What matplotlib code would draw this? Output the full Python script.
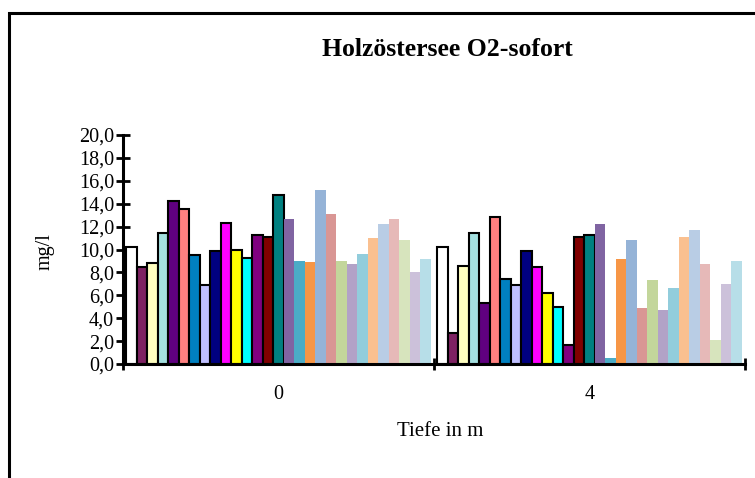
import matplotlib
matplotlib.use("Agg")
import matplotlib.pyplot as plt
from matplotlib.patches import Rectangle
from matplotlib.ticker import FuncFormatter, FixedLocator

plt.rcParams['font.family'] = ['Liberation Serif', 'DejaVu Serif']

# Data
depths = ["0", "4"]
vals_0m = [10.2, 8.5, 8.8, 11.4, 14.2, 13.5, 9.5, 6.9, 9.9, 12.3, 10.0, 9.3, 11.3, 11.1, 14.8,
           12.7, 9.0, 8.9, 15.2, 13.1, 9.0, 8.7, 9.6, 11.0, 12.2, 12.7, 10.8, 8.0, 9.2]
vals_4m = [10.2, 2.7, 8.6, 11.4, 5.3, 12.8, 7.4, 6.9, 9.9, 8.5, 6.2, 5.0, 1.7, 11.1, 11.3,
           12.2, 0.5, 9.2, 10.8, 4.9, 7.3, 4.7, 6.6, 11.1, 11.7, 8.7, 2.1, 7.0, 9.0]
colors = ["#FFFFFF", "#7E2262", "#FFFFC0", "#A4E0E0", "#600080", "#FF8080", "#0080C0", "#C0C0FF",
          "#000080", "#FF00FF", "#FFFF00", "#00FFFF", "#800080", "#800000", "#008080",
          "#8064A2", "#4BACC6", "#F79646", "#95B3D7", "#D99694", "#C3D69B", "#B2A2C7",
          "#92CDDC", "#FAC090", "#B9CDE5", "#E6B9B8", "#D7E4BD", "#CCC1DA", "#B7DEE8"]
n_edged = 15
yticks = [0, 2, 4, 6, 8, 10, 12, 14, 16, 18, 20]

W, H = 755, 478
fig = plt.figure(figsize=(W / 100, H / 100), dpi=100)
fig.patches.append(Rectangle((9 / W, -0.1), 1.2, (H - 13) / H + 0.1, transform=fig.transFigure,
                             fill=False, edgecolor='black', linewidth=2.2, zorder=0))

ax = fig.add_axes([123 / W, (H - 364) / H, (745 - 123) / W, (364 - 135) / H])
n = len(colors)
group_w = 0.98
bw = group_w / n
for i in range(n):
    xs = [j - group_w / 2 + bw * (i + 0.5) for j in range(len(depths))]
    vals = [vals_0m[i], vals_4m[i]]
    if i < n_edged:
        ax.bar(xs, vals, width=bw, color=colors[i], edgecolor='black', linewidth=1.5, zorder=2)
    else:
        ax.bar(xs, vals, width=bw, color=colors[i], linewidth=0, zorder=2)

ax.set_xlim(-0.5, 1.5)
ax.set_ylim(0, 20)
ax.set_yticks(yticks)
ax.yaxis.set_major_formatter(FuncFormatter(lambda v, p: f"{v:.1f}".replace('.', ',')))
ax.set_xticks(range(len(depths)))
ax.set_xticklabels(depths)
ax.xaxis.set_minor_locator(FixedLocator([-0.5, 0.5, 1.5]))
ax.tick_params(axis='x', which='major', length=0, pad=15, labelsize=14.5)
ax.tick_params(axis='x', which='minor', length=8, width=2, direction='inout')
ax.tick_params(axis='y', which='major', length=10, width=2, direction='inout', pad=1.5, labelsize=14.5)
for s in ['top', 'right']:
    ax.spines[s].set_visible(False)
for s in ['left', 'bottom']:
    ax.spines[s].set_linewidth(2.2)

fig.text(447 / W, 1 - 50 / H, "Holzöstersee O2-sofort", ha='center', va='center',
         fontsize=18.5, fontweight='bold')
fig.text(440 / W, 1 - 432 / H, "Tiefe in m", ha='center', va='center', fontsize=15)
fig.text(45 / W, 1 - 252 / H, "mg/l", ha='center', va='center', rotation=90, fontsize=14.5)

fig.savefig("out.png", dpi=100)
